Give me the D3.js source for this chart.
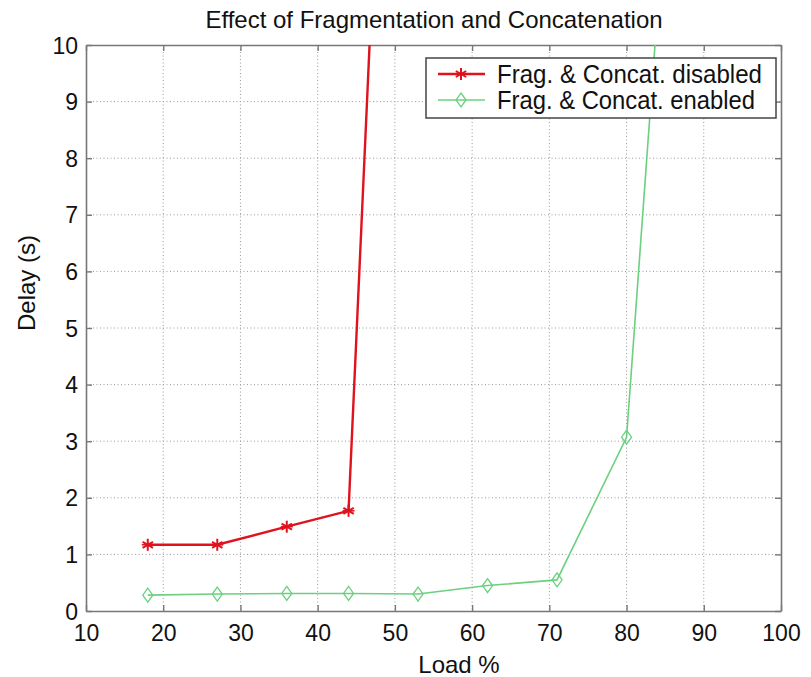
<!DOCTYPE html>
<html><head><meta charset="utf-8">
<script src="https://cdn.jsdelivr.net/npm/d3@7"></script>
<style>body{margin:0;background:#fff}svg{display:block}text{font-family:"Liberation Sans",Arial,sans-serif;fill:#111}</style>
</head><body><svg id="c" width="811" height="677"></svg>
<script>
const title = "Effect of Fragmentation and Concatenation";
const xLabel = "Load %";
const yLabel = "Delay (s)";
const seriesNames = ["Frag. & Concat. disabled", "Frag. & Concat. enabled"];
const disabledLoad = [18, 27, 36, 44, 53];
const disabledDelay = [1.17, 1.17, 1.49, 1.77, 29];
const enabledLoad = [18, 27, 36, 44, 53, 62, 71, 80, 89];
const enabledDelay = [0.28, 0.30, 0.31, 0.31, 0.30, 0.45, 0.55, 3.07, 20];
const xTicks = [10, 20, 30, 40, 50, 60, 70, 80, 90, 100];
const yTicks = [0, 1, 2, 3, 4, 5, 6, 7, 8, 9, 10];

const svg = d3.select("#c");
const L = 86, R = 781, T = 45, B = 611;
const x = d3.scaleLinear().domain([10, 100]).range([L, R]);
const y = d3.scaleLinear().domain([0, 10]).range([B, T]);

// grid
const grid = svg.append("g");
grid.selectAll(".gx").data(xTicks.slice(1, -1)).join("line")
  .attr("x1", d => x(d)).attr("x2", d => x(d)).attr("y1", T).attr("y2", B)
  .attr("stroke", "#9a9a9a").attr("stroke-width", 1).attr("stroke-dasharray", "1,2.5");
grid.selectAll(".gy").data(yTicks.slice(1, -1)).join("line")
  .attr("y1", d => y(d)).attr("y2", d => y(d)).attr("x1", L).attr("x2", R)
  .attr("stroke", "#9a9a9a").attr("stroke-width", 1).attr("stroke-dasharray", "1,2.5");

// axes
const axColor = "#777";
const xb = svg.append("g").attr("transform", `translate(0,${B})`)
  .call(d3.axisBottom(x).tickValues(xTicks).tickSizeInner(-6).tickSizeOuter(0).tickPadding(14));
const xt = svg.append("g").attr("transform", `translate(0,${T})`)
  .call(d3.axisTop(x).tickValues(xTicks).tickSizeInner(-6).tickSizeOuter(0).tickFormat(""));
const yl = svg.append("g").attr("transform", `translate(${L},0)`)
  .call(d3.axisLeft(y).tickValues(yTicks).tickSizeInner(-6).tickSizeOuter(0).tickPadding(8));
const yr = svg.append("g").attr("transform", `translate(${R},0)`)
  .call(d3.axisRight(y).tickValues(yTicks).tickSizeInner(-6).tickSizeOuter(0).tickFormat(""));
[xb, xt, yl, yr].forEach(g => {
  g.select(".domain").attr("stroke", axColor).attr("stroke-width", 1.6);
  g.selectAll(".tick line").attr("stroke", axColor).attr("stroke-width", 1.4);
  g.selectAll("text").attr("font-size", 23).attr("fill", "#111")
    .attr("font-family", "'Liberation Sans',Arial,sans-serif");
});
xb.selectAll("text").attr("dy", "0.71em");
yl.selectAll("text").attr("dy", "0.35em");

// clip
svg.append("clipPath").attr("id", "clip").append("rect")
  .attr("x", L).attr("y", T).attr("width", R - L).attr("height", B - T);

const line = d3.line().x(d => x(d[0])).y(d => y(d[1]));
const red = "#e0121e", green = "#6cd07f";
const dData = disabledLoad.map((v, i) => [v, disabledDelay[i]]);
const eData = enabledLoad.map((v, i) => [v, enabledDelay[i]]);

const plot = svg.append("g").attr("clip-path", "url(#clip)");
plot.append("path").datum(eData).attr("d", line).attr("fill", "none")
  .attr("stroke", green).attr("stroke-width", 1.6);
plot.append("path").datum(dData).attr("d", line).attr("fill", "none")
  .attr("stroke", red).attr("stroke-width", 2.4);

function star(g, cx, cy, r, col) {
  const s = g.append("g").attr("transform", `translate(${cx},${cy})`);
  [0, 60, 120].forEach(a => {
    const rad = a * Math.PI / 180;
    s.append("line").attr("x1", -r * Math.sin(rad)).attr("y1", -r * Math.cos(rad))
      .attr("x2", r * Math.sin(rad)).attr("y2", r * Math.cos(rad))
      .attr("stroke", col).attr("stroke-width", 2);
  });
  s.append("line").attr("x1", -r).attr("x2", r).attr("y1", 0).attr("y2", 0)
    .attr("stroke", col).attr("stroke-width", 1.5);
}
function diamond(g, cx, cy, w, h, col) {
  g.append("path").attr("d", `M${cx},${cy - h}L${cx + w},${cy}L${cx},${cy + h}L${cx - w},${cy}Z`)
    .attr("fill", "none").attr("stroke", col).attr("stroke-width", 1.3);
}
eData.filter(d => d[1] <= 10).forEach(d => diamond(plot, x(d[0]), y(d[1]), 5, 7, green));
dData.filter(d => d[1] <= 10).forEach(d => star(plot, x(d[0]), y(d[1]), 6, red));

// legend
const lg = svg.append("g");
lg.append("rect").attr("x", 426).attr("y", 58).attr("width", 350).attr("height", 60)
  .attr("fill", "#fff").attr("stroke", "#444").attr("stroke-width", 1.5);
const rows = [{ c: red, w: 2.4, m: "s", yy: 74 }, { c: green, w: 1.6, m: "d", yy: 100 }];
rows.forEach((r, i) => {
  lg.append("line").attr("x1", 438).attr("x2", 485).attr("y1", r.yy).attr("y2", r.yy)
    .attr("stroke", r.c).attr("stroke-width", r.w);
  if (r.m === "s") star(lg, 461, r.yy, 6, r.c); else diamond(lg, 461, r.yy, 5, 7, r.c);
  const t = lg.append("text").attr("x", 497).attr("y", r.yy).attr("dy", "0.36em")
    .attr("font-size", 25).text(seriesNames[i]);
  const target = i === 0 ? 265 : 258;
  t.attr("textLength", target).attr("lengthAdjust", "spacingAndGlyphs");
});

// title and labels
svg.append("text").attr("x", 434).attr("y", 28).attr("text-anchor", "middle")
  .attr("font-size", 24).text(title);
svg.append("text").attr("x", 459).attr("y", 673).attr("text-anchor", "middle")
  .attr("font-size", 24).text(xLabel);
svg.append("text").attr("transform", `translate(35,331) rotate(-90)`).attr("text-anchor", "start")
  .attr("font-size", 24).text(yLabel);
</script></body></html>
